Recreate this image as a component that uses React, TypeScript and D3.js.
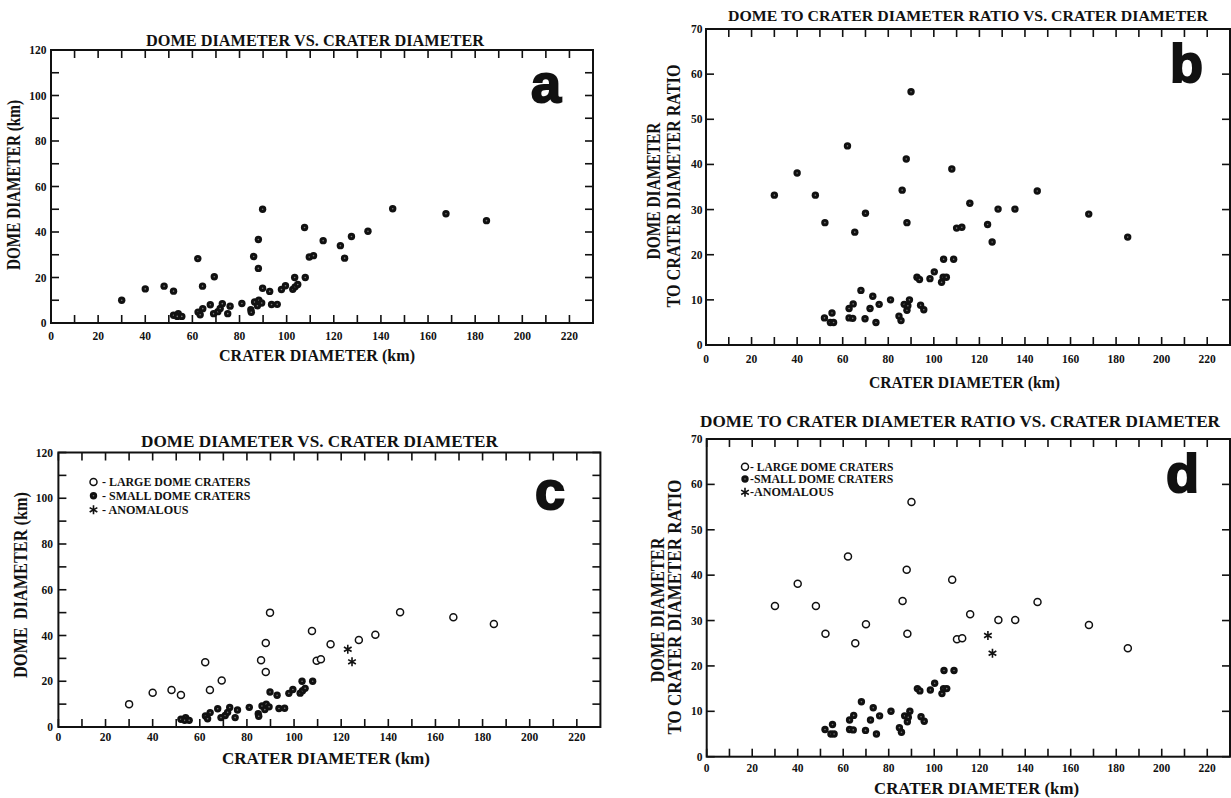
import React from "react";
import * as d3 from "d3";

// ---------- data: dome diameter vs crater diameter (panels a, c) ----------
const largeCrater = [30, 40, 48, 52, 62.3, 64.3, 69.3, 86, 88, 88, 89.8, 107.6, 109.6, 111.4, 115.5, 127.5, 134.5, 145, 167.6, 184.8];
const largeDome = [10, 15, 16.2, 14, 28.3, 16.2, 20.3, 29.2, 36.7, 24, 50, 42, 29, 29.6, 36.2, 38, 40.3, 50.2, 48, 45];
const smallCrater = [52, 54, 53.6, 55.5, 62.4, 63.3, 64.4, 67.6, 69, 70.8, 71.8, 72.7, 75, 76, 81, 84.8, 85, 86.4, 87.6, 88.2, 89.4, 89.8, 92.8, 93.6, 96, 97.8, 99.5, 102.6, 103.6, 104.7, 103.4, 107.9];
const smallDome = [3.4, 4.1, 2.9, 2.9, 4.8, 3.6, 6.3, 8, 4.1, 5, 6.4, 8.5, 4.1, 7.4, 8.6, 5.8, 4.7, 9.2, 7.6, 10, 8.8, 15.3, 13.9, 8.1, 8.2, 14.7, 16.4, 14.8, 15.9, 16.9, 20, 20];
const anomCrater = [122.8, 124.6];
const anomDome = [34, 28.5];

// ---------- data: dome/crater ratio vs crater diameter (panels b, d) ----------
const largeRCrater = [30, 40, 48, 52.2, 62.1, 65.3, 70, 86.1, 87.9, 88.2, 90, 107.9, 110, 112.3, 115.8, 128.2, 135.6, 145.4, 168, 185.1];
const largeRatio = [33.2, 38.1, 33.2, 27.1, 44.1, 25, 29.2, 34.3, 41.2, 27.1, 56.1, 39, 25.9, 26.1, 31.4, 30.1, 30.1, 34.1, 29, 23.9];
const smallRCrater = [52, 55.3, 54.6, 56, 62.8, 62.8, 64.4, 64.6, 68, 69.8, 72, 73.2, 74.6, 76, 81, 84.7, 85.6, 87, 88.2, 88.6, 89.3, 94.2, 95.6, 92.6, 93.7, 98.3, 100.2, 103.4, 104.1, 105.5, 104.3, 108.7];
const smallRatio = [6, 7.1, 5, 5, 8.1, 6, 5.9, 9.1, 12.1, 5.8, 8.1, 10.8, 5, 9, 10, 6.4, 5.4, 9, 7.7, 8.7, 10, 8.8, 7.8, 15, 14.5, 14.7, 16.2, 13.9, 15, 15, 19, 19];
const anomRCrater = [123.6, 125.6];
const anomRatio = [26.7, 22.8];

// ---------- ticks ----------
const xTicks = [0, 10, 20, 30, 40, 50, 60, 70, 80, 90, 100, 110, 120, 130, 140, 150, 160, 170, 180, 190, 200, 210, 220];
const xTickLabels = [0, 20, 40, 60, 80, 100, 120, 140, 160, 180, 200, 220];
const domeTicks = [0, 10, 20, 30, 40, 50, 60, 70, 80, 90, 100, 110, 120];
const domeTickLabels = [0, 20, 40, 60, 80, 100, 120];
const ratioTicks = [0, 10, 20, 30, 40, 50, 60, 70];
const ratioTickLabels = [0, 10, 20, 30, 40, 50, 60, 70];

const legendLabelsC = ["- LARGE DOME CRATERS", "- SMALL DOME CRATERS", "- ANOMALOUS"];
const legendLabelsD = ["- LARGE DOME CRATERS", "-SMALL DOME CRATERS", "-ANOMALOUS"];

const SERIF = "'Liberation Serif', 'Times New Roman', serif";
const SANS = "'Liberation Sans', Arial, sans-serif";

type Kind = "filled" | "open" | "star";

function Marker({ x, y, kind }: { x: number; y: number; kind: Kind }) {
  if (kind === "filled") {
    return (
      <g>
        <circle cx={x} cy={y} r={3.7} fill="#111" />
        <circle cx={x} cy={y} r={0.8} fill="#777" />
      </g>
    );
  }
  if (kind === "open") {
    return <circle cx={x} cy={y} r={3.5} fill="#fff" stroke="#111" strokeWidth={1.5} />;
  }
  const p = d3.symbol().type(d3.symbolAsterisk).size(55)() as string;
  return <path d={p} transform={`translate(${x},${y})`} fill="none" stroke="#111" strokeWidth={1.6} />;
}

interface Series { xs: number[]; ys: number[]; kind: Kind }
interface YLabel { text: string; x: number; y: number; w: number; size: number }

interface PanelProps {
  box: [number, number, number, number];
  yMax: number;
  yTicks: number[];
  yTickLabels: number[];
  title: string; titleX: number; titleY: number; titleW: number; titleSize: number;
  xLabel: string; xLabelX: number; xLabelY: number; xLabelW: number;
  yLabels: YLabel[];
  letter: string; letterX: number; letterY: number;
  xTickLabelY: number; yTickLabelX: number;
  series: Series[];
  legend?: { labels: string[]; symX: number; textX: number; ys: number[]; ws: number[] };
}

function Panel(p: PanelProps) {
  const [x0, x1, y0, y1] = p.box;
  const x = d3.scaleLinear().domain([0, 230]).range([x0, x1]);
  const y = d3.scaleLinear().domain([0, p.yMax]).range([y1, y0]);
  const tl = 8;
  return (
    <g>
      <rect x={x0} y={y0} width={x1 - x0} height={y1 - y0} fill="none" stroke="#111" strokeWidth={2} />
      {xTicks.map((t) => (
        <g key={"xt" + t}>
          <line x1={x(t)} x2={x(t)} y1={y1} y2={y1 - tl} stroke="#111" strokeWidth={1.6} />
          <line x1={x(t)} x2={x(t)} y1={y0} y2={y0 + tl} stroke="#111" strokeWidth={1.6} />
        </g>
      ))}
      {p.yTicks.map((t) => (
        <g key={"yt" + t}>
          <line x1={x0} x2={x0 + tl} y1={y(t)} y2={y(t)} stroke="#111" strokeWidth={1.6} />
          <line x1={x1} x2={x1 - tl} y1={y(t)} y2={y(t)} stroke="#111" strokeWidth={1.6} />
        </g>
      ))}
      {xTickLabels.map((t) => (
        <text key={"xl" + t} x={x(t)} y={p.xTickLabelY} textAnchor="middle" dominantBaseline="central"
          fontFamily={SERIF} fontWeight="bold" fontSize={11.5} fill="#111">{t}</text>
      ))}
      {p.yTickLabels.map((t) => (
        <text key={"yl" + t} x={p.yTickLabelX} y={y(t)} textAnchor="end" dominantBaseline="central"
          fontFamily={SERIF} fontWeight="bold" fontSize={11.5} fill="#111">{t}</text>
      ))}
      <text x={p.titleX} y={p.titleY} textAnchor="middle" dominantBaseline="central" fontFamily={SERIF}
        fontWeight="bold" fontSize={p.titleSize} fill="#111" textLength={p.titleW} lengthAdjust="spacingAndGlyphs">{p.title}</text>
      <text x={p.xLabelX} y={p.xLabelY} textAnchor="middle" dominantBaseline="central" fontFamily={SERIF}
        fontWeight="bold" fontSize={17} fill="#111" textLength={p.xLabelW} lengthAdjust="spacingAndGlyphs">{p.xLabel}</text>
      {p.yLabels.map((l, i) => (
        <text key={"ylab" + i} transform={`translate(${l.x},${l.y}) rotate(-90)`} textAnchor="middle"
          dominantBaseline="central" fontFamily={SERIF} fontWeight="bold" fontSize={l.size} fill="#111"
          textLength={l.w} lengthAdjust="spacingAndGlyphs" style={{ whiteSpace: "pre" }}>{l.text}</text>
      ))}
      <text x={p.letterX} y={p.letterY} fontFamily={SANS} fontWeight={900} fontSize={54} fill="#111"
        stroke="#111" strokeWidth={2}>{p.letter}</text>
      {p.series.map((s, si) =>
        s.xs.map((v, i) => <Marker key={si + "-" + i} x={x(v)} y={y(s.ys[i])} kind={s.kind} />)
      )}
      {p.legend && p.legend.labels.map((lab, i) => (
        <g key={"lg" + i}>
          <Marker x={p.legend!.symX} y={p.legend!.ys[i]} kind={(["open", "filled", "star"] as Kind[])[i]} />
          <text x={p.legend!.textX} y={p.legend!.ys[i]} dominantBaseline="central" fontFamily={SERIF}
            fontWeight="bold" fontSize={11.5} fill="#111" textLength={p.legend!.ws[i]}
            lengthAdjust="spacingAndGlyphs">{lab}</text>
        </g>
      ))}
    </g>
  );
}

export default function App() {
  const domeAllFilled: Series[] = [
    { xs: largeCrater, ys: largeDome, kind: "filled" },
    { xs: smallCrater, ys: smallDome, kind: "filled" },
    { xs: anomCrater, ys: anomDome, kind: "filled" },
  ];
  const domeByClass: Series[] = [
    { xs: largeCrater, ys: largeDome, kind: "open" },
    { xs: smallCrater, ys: smallDome, kind: "filled" },
    { xs: anomCrater, ys: anomDome, kind: "star" },
  ];
  const ratioAllFilled: Series[] = [
    { xs: largeRCrater, ys: largeRatio, kind: "filled" },
    { xs: smallRCrater, ys: smallRatio, kind: "filled" },
    { xs: anomRCrater, ys: anomRatio, kind: "filled" },
  ];
  const ratioByClass: Series[] = [
    { xs: largeRCrater, ys: largeRatio, kind: "open" },
    { xs: smallRCrater, ys: smallRatio, kind: "filled" },
    { xs: anomRCrater, ys: anomRatio, kind: "star" },
  ];
  return (
    <svg width={1231} height={798} style={{ position: "absolute", left: 0, top: 0, background: "#fff" }}>
      <rect width={1231} height={798} fill="#fff" />
      <Panel
        box={[51, 593, 50, 323]} yMax={120} yTicks={domeTicks} yTickLabels={domeTickLabels}
        title="DOME DIAMETER VS. CRATER DIAMETER" titleX={315} titleY={40} titleW={338} titleSize={17}
        xLabel="CRATER DIAMETER (km)" xLabelX={317} xLabelY={355} xLabelW={196}
        yLabels={[{ text: "DOME DIAMETER (km)", x: 14, y: 185, w: 170, size: 18 }]}
        letter="a" letterX={531} letterY={102} xTickLabelY={336} yTickLabelX={46.5}
        series={domeAllFilled}
      />
      <Panel
        box={[706, 1230, 29, 345]} yMax={70} yTicks={ratioTicks} yTickLabels={ratioTickLabels}
        title="DOME TO CRATER DIAMETER RATIO VS. CRATER DIAMETER" titleX={968} titleY={16} titleW={480} titleSize={15}
        xLabel="CRATER DIAMETER (km)" xLabelX={964.5} xLabelY={382.6} xLabelW={191}
        yLabels={[
          { text: "DOME DIAMETER", x: 654.4, y: 191, w: 137, size: 18 },
          { text: "TO CRATER DIAMETER RATIO", x: 673.7, y: 186, w: 243, size: 18 },
        ]}
        letter="b" letterX={1170} letterY={81.5} xTickLabelY={359} yTickLabelX={702.5}
        series={ratioAllFilled}
      />
      <Panel
        box={[58.4, 600.4, 452.5, 727]} yMax={120} yTicks={domeTicks} yTickLabels={domeTickLabels}
        title="DOME DIAMETER VS. CRATER DIAMETER" titleX={319.5} titleY={441.8} titleW={357} titleSize={17}
        xLabel="CRATER DIAMETER (km)" xLabelX={326} xLabelY={758} xLabelW={208}
        yLabels={[{ text: "DOME  DIAMETER (km)", x: 21, y: 585, w: 186, size: 18 }]}
        letter="c" letterX={535} letterY={509} xTickLabelY={736.6} yTickLabelX={53}
        series={domeByClass}
        legend={{ labels: legendLabelsC, symX: 93.5, textX: 102, ys: [482, 495.7, 509.8], ws: [148.5, 148.5, 86.6] }}
      />
      <Panel
        box={[706.7, 1230, 439, 756.7]} yMax={70} yTicks={ratioTicks} yTickLabels={ratioTickLabels}
        title="DOME TO CRATER DIAMETER RATIO VS. CRATER DIAMETER" titleX={960} titleY={421.5} titleW={520} titleSize={17}
        xLabel="CRATER DIAMETER (km)" xLabelX={976.5} xLabelY={788} xLabelW={205}
        yLabels={[
          { text: "DOME DIAMETER", x: 657.6, y: 610, w: 145, size: 18 },
          { text: "TO CRATER DIAMETER RATIO", x: 675.3, y: 607, w: 255, size: 18 },
        ]}
        letter="d" letterX={1166} letterY={492} xTickLabelY={768} yTickLabelX={702.5}
        series={ratioByClass}
        legend={{ labels: legendLabelsD, symX: 745, textX: 750, ys: [466.7, 479, 492.3], ws: [143.4, 143.2, 83.6] }}
      />
    </svg>
  );
}
